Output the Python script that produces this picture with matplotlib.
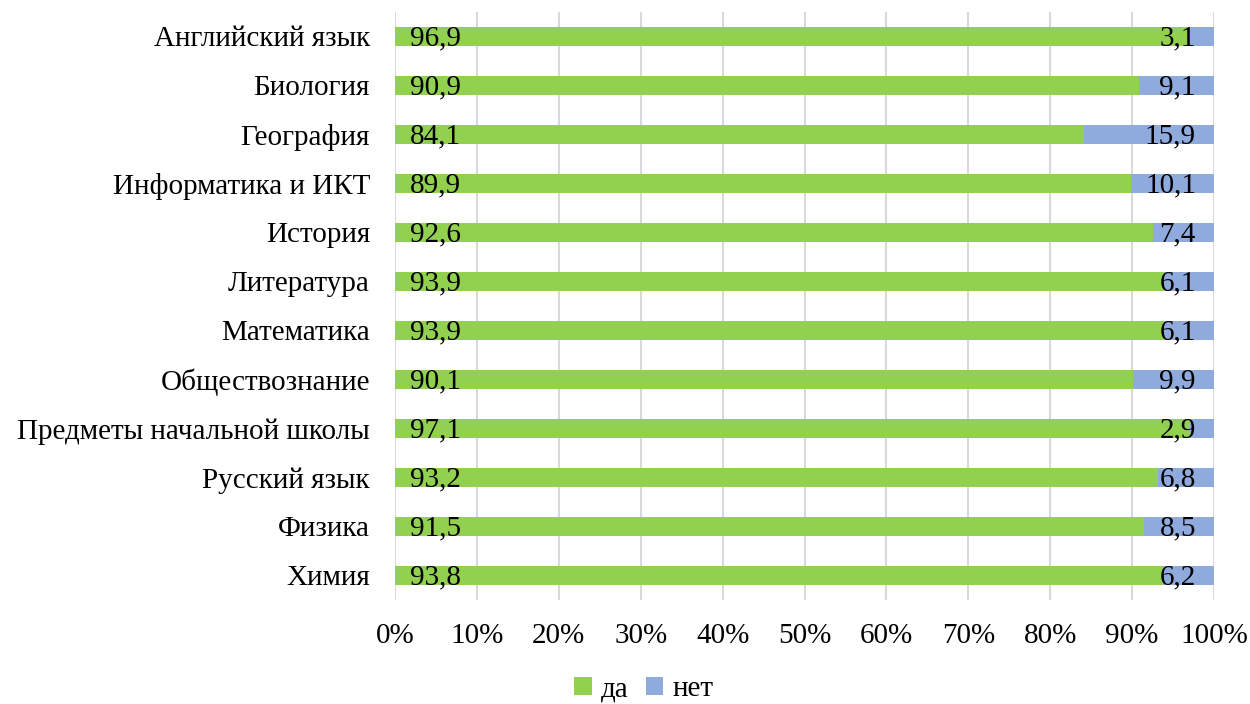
import matplotlib.pyplot as plt
import numpy as np

plt.rcParams['font.family'] = ['Liberation Serif', 'DejaVu Serif']

subjects = ['Английский язык', 'Биология', 'География', 'Информатика и ИКТ',
            'История', 'Литература', 'Математика', 'Обществознание',
            'Предметы начальной школы', 'Русский язык', 'Физика', 'Химия']
yes_vals = [96.9, 90.9, 84.1, 89.9, 92.6, 93.9, 93.9, 90.1, 97.1, 93.2, 91.5, 93.8]
no_vals = [3.1, 9.1, 15.9, 10.1, 7.4, 6.1, 6.1, 9.9, 2.9, 6.8, 8.5, 6.2]

green = '#92D050'
blue = '#8FAADC'
fs = 21

fig = plt.figure(figsize=(12.5, 7.04), dpi=100)
ax = fig.add_axes([0.316, 0.148, 0.6552, 0.835])

y = np.arange(len(subjects))
ax.barh(y, yes_vals, height=0.4, color=green, label='да', zorder=2)
ax.barh(y, no_vals, left=yes_vals, height=0.4, color=blue, label='нет', zorder=2)

fmt = lambda v: ('%.1f' % v).replace('.', ',')
for i in range(len(subjects)):
    ax.text(1.8, y[i] + 0.04, fmt(yes_vals[i]), ha='left', va='center', fontsize=fs, zorder=3)
    ax.text(97.8, y[i] + 0.04, fmt(no_vals[i]), ha='right', va='center', fontsize=fs, zorder=3)

ax.set_xlim(0, 100)
ax.set_ylim(len(subjects) - 0.5, -0.5)
ax.set_xticks(np.arange(0, 101, 10))
ax.set_xticklabels(['%d%%' % t for t in range(0, 101, 10)], fontsize=fs)
ax.set_yticks(y)
ax.set_yticklabels(subjects, fontsize=fs)
ax.tick_params(length=0)
ax.tick_params(axis='y', pad=18)
ax.tick_params(axis='x', pad=17)
ax.grid(axis='x', color='#D9D9D9', linewidth=1.5, zorder=0)
for s in ax.spines.values():
    s.set_visible(False)

fig.legend(loc='lower center', bbox_to_anchor=(0.515, -0.035), ncol=2, frameon=False,
           fontsize=fs, handlelength=0.6, handleheight=0.6, handletextpad=0.3,
           columnspacing=0.6)

fig.savefig('out.png', dpi=100)
